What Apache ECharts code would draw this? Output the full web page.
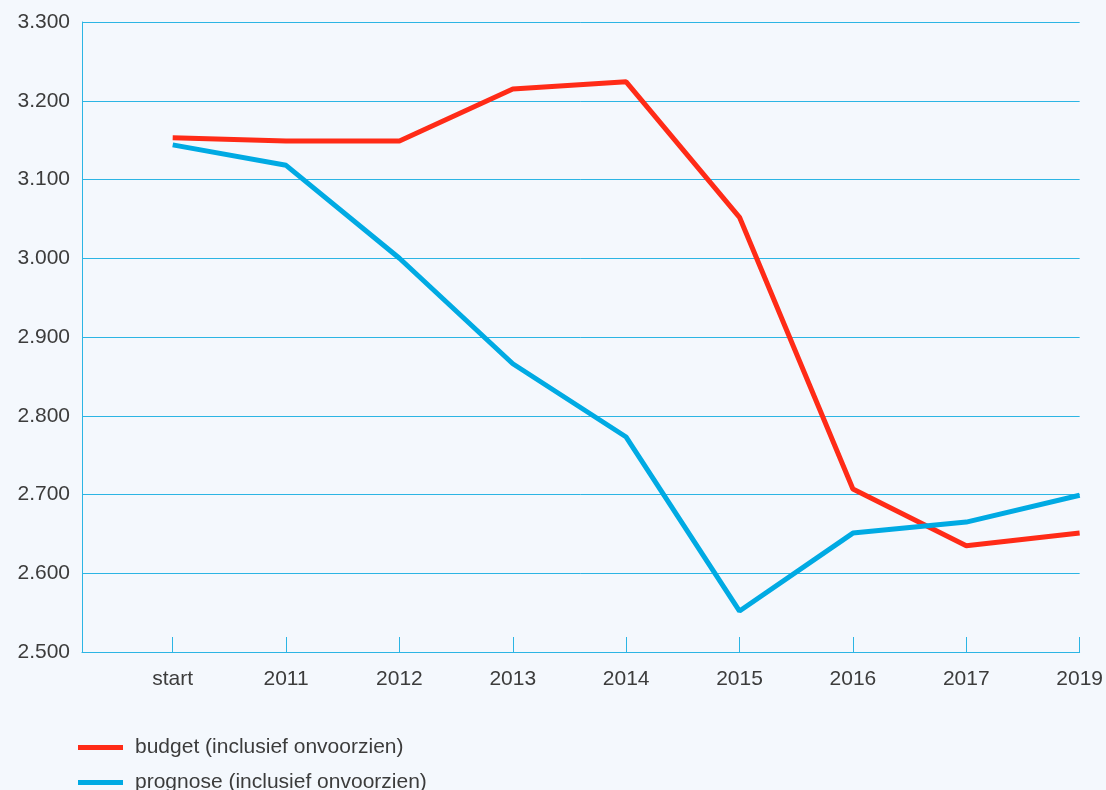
<!DOCTYPE html>
<html>
<head>
<meta charset="utf-8">
<script src="https://cdn.jsdelivr.net/npm/echarts@6/dist/echarts.min.js"></script>
<style>
html,body{margin:0;padding:0;background:#f4f8fd;}
#c{width:1106px;height:790px;}
</style>
</head>
<body>
<div id="c"></div>
<script>
var categories = ['start','2011','2012','2013','2014','2015','2016','2017','2019'];
var budget = [3153, 3149, 3149, 3215, 3224, 3052, 2707, 2635, 2651];
var prognose = [3144, 3118, 3000, 2866, 2773, 2552, 2651, 2665, 2699];
var yTicks = [2500, 2600, 2700, 2800, 2900, 3000, 3100, 3200, 3300];

var gridColor = '#2cb5e4';
var textColor = '#3c3c3c';
var font = 'Liberation Sans';
var idx = categories.map(function(_, i){ return i; });

function toPairs(arr){ return arr.map(function(v, i){ return [i, v]; }); }
function fmt(v){ return String(v).replace(/\B(?=(\d{3})+(?!\d))/g, '.'); }

var chart = echarts.init(document.getElementById('c'), null, {renderer:'canvas'});
chart.setOption({
  backgroundColor: '#f4f8fd',
  animation: false,
  grid: {left: 82, right: 26, top: 22, bottom: 138, containLabel: false},
  legend: {
    orient: 'vertical', left: 73, top: 732, height: 200,
    itemWidth: 45, itemHeight: 5, itemGap: 14,
    icon: 'rect',
    textStyle: {fontFamily: font, fontSize: 21, color: textColor, padding: [0,0,0,7]},
    data: ['budget (inclusief onvoorzien)', 'prognose (inclusief onvoorzien)']
  },
  xAxis: {
    type: 'value', min: -0.8, max: 8,
    axisLine: {show: true, onZero: false, lineStyle: {color: gridColor, width: 1}},
    axisTick: {show: true, inside: true, length: 15, customValues: idx, lineStyle: {color: gridColor}},
    axisLabel: {customValues: idx, margin: 17, fontFamily: font, fontSize: 21, color: textColor,
      formatter: function(v){ return categories[Math.round(v)]; }},
    splitLine: {show: false}
  },
  yAxis: {
    type: 'value', min: 2500, max: 3300, interval: 100,
    axisLine: {show: true, onZero: false, lineStyle: {color: gridColor, width: 1}},
    axisTick: {show: false},
    axisLabel: {margin: 12, fontFamily: font, fontSize: 21, color: textColor, formatter: fmt},
    splitLine: {show: true, lineStyle: {color: gridColor, width: 1}}
  },
  series: [
    {name: 'budget (inclusief onvoorzien)', type: 'line', data: toPairs(budget),
      symbol: 'none', lineStyle: {color: '#ff2b17', width: 5}, itemStyle: {color: '#ff2b17'}},
    {name: 'prognose (inclusief onvoorzien)', type: 'line', data: toPairs(prognose),
      symbol: 'none', lineStyle: {color: '#00aae3', width: 5}, itemStyle: {color: '#00aae3'}}
  ]
});
</script>
</body>
</html>
